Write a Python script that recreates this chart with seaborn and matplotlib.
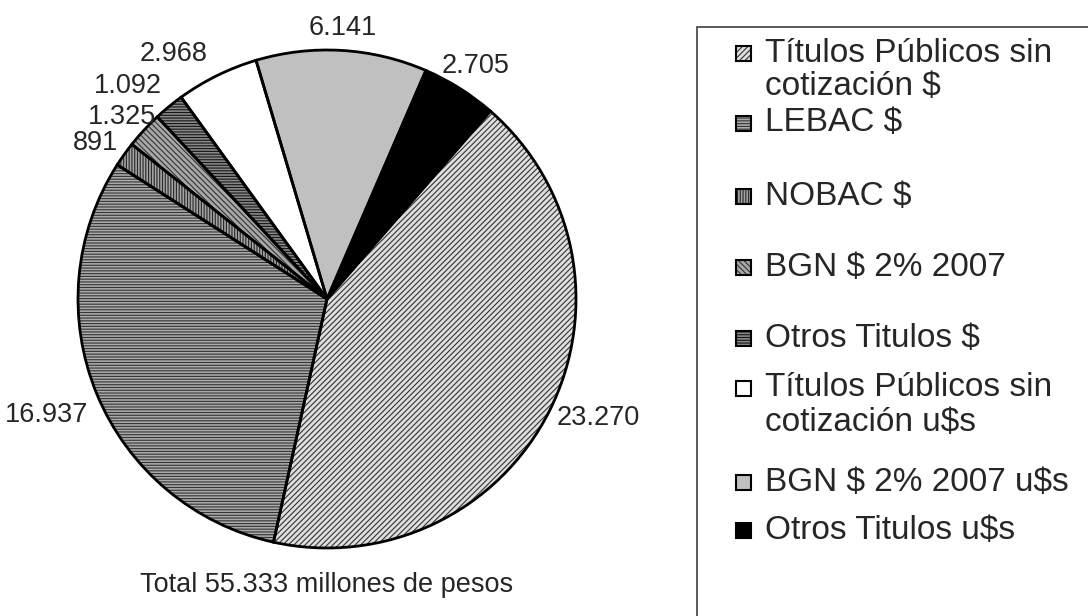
import numpy as np
import matplotlib
matplotlib.use("Agg")
import matplotlib.pyplot as plt
from matplotlib.patches import Rectangle
import seaborn as sns

# data (millones de pesos)
categorias = ["Títulos Públicos sin\ncotización $", "LEBAC $", "NOBAC $", "BGN $ 2% 2007",
              "Otros Titulos $", "Títulos Públicos sin\ncotización u$s", "BGN $ 2% 2007 u$s",
              "Otros Titulos u$s"]
valores = [23270, 16937, 891, 1325, 1092, 2968, 6141, 2705]
etiquetas = ["23.270", "16.937", "891", "1.325", "1.092", "2.968", "6.141", "2.705"]
titulo = "Total 55.333 millones de pesos"

# look of each slice
fondos = ["#dedede", "#aaaaaa", "#a4a4a4", "#a8a8a8", "#888888", "#ffffff", "#c0c0c0", "#000000"]
tramas = ["//////", "------", "||||||", "\\\\\\\\\\\\", "------", "", "", ""]
color_trama = ["#333333", "#333333", "#262626", "#333333", "#151515", "#000000", "#000000", "#000000"]

# label placement (distance in radii, angle nudge in degrees)
dist_lbl = [1.19, 1.22, 1.12, 1.10, 1.17, 1.16, 1.09, 1.11]
ajuste_ang = [3.0, 0.0, 1.5, 1.2, 3.6, 5.8, 0.2, -0.3]

sns.set_style("white")
plt.rcParams["font.family"] = ["Liberation Sans", "DejaVu Sans"]
plt.rcParams["hatch.linewidth"] = 0.8
plt.rcParams["text.parse_math"] = False

W, H = 1088, 616
fig = plt.figure(figsize=(W / 100, H / 100), dpi=100)

cx, cy, r = 327, 299, 249
ax = fig.add_axes([(cx - r) / W, (H - cy - r) / H, 2 * r / W, 2 * r / H])

# fill + hatch
cunas, _ = ax.pie(valores, startangle=49, counterclock=False, colors=fondos,
                  wedgeprops=dict(linewidth=0))
for w, h, c in zip(cunas, tramas, color_trama):
    if h:
        w.set_hatch(h)
        w.set_edgecolor(c)
# outlines
ax.pie(valores, startangle=49, counterclock=False,
       wedgeprops=dict(fill=False, edgecolor="black", linewidth=2))
ax.set_xlim(-1, 1)
ax.set_ylim(-1, 1)
ax.set_aspect("equal")
ax.axis("off")

for w, txt, d, da in zip(cunas, etiquetas, dist_lbl, ajuste_ang):
    ang = np.deg2rad((w.theta1 + w.theta2) / 2 + da)
    ax.text(d * np.cos(ang), d * np.sin(ang), txt, ha="center", va="center",
            fontsize=19.5, clip_on=False)

fig.text(cx / W, 1 - 585 / H, titulo, ha="center", va="center", fontsize=19.5)

# legend box
fig.add_artist(Rectangle((697 / W, 0 - 20 / H), 500 / W, (H - 27 + 20) / H,
                         transform=fig.transFigure, fill=False, edgecolor="#404040",
                         linewidth=1.2))
y_items = [53, 123, 197, 267, 338, 388, 482, 530]
sq = 15
for lab, y, fc, h, hc in zip(categorias, y_items, fondos, tramas, color_trama):
    fig.add_artist(Rectangle((736 / W, 1 - (y + sq / 2) / H), sq / W, sq / H,
                             transform=fig.transFigure, facecolor=fc, hatch=h or None,
                             edgecolor=hc, linewidth=0))
    fig.add_artist(Rectangle((736 / W, 1 - (y + sq / 2) / H), sq / W, sq / H,
                             transform=fig.transFigure, fill=False,
                             edgecolor="black", linewidth=1.5))
    for i, linea in enumerate(lab.split("\n")):
        fig.text(765 / W, 1 - (y + i * 34) / H, linea, ha="left", va="center",
                 fontsize=24)

fig.savefig("out.png", dpi=100)
